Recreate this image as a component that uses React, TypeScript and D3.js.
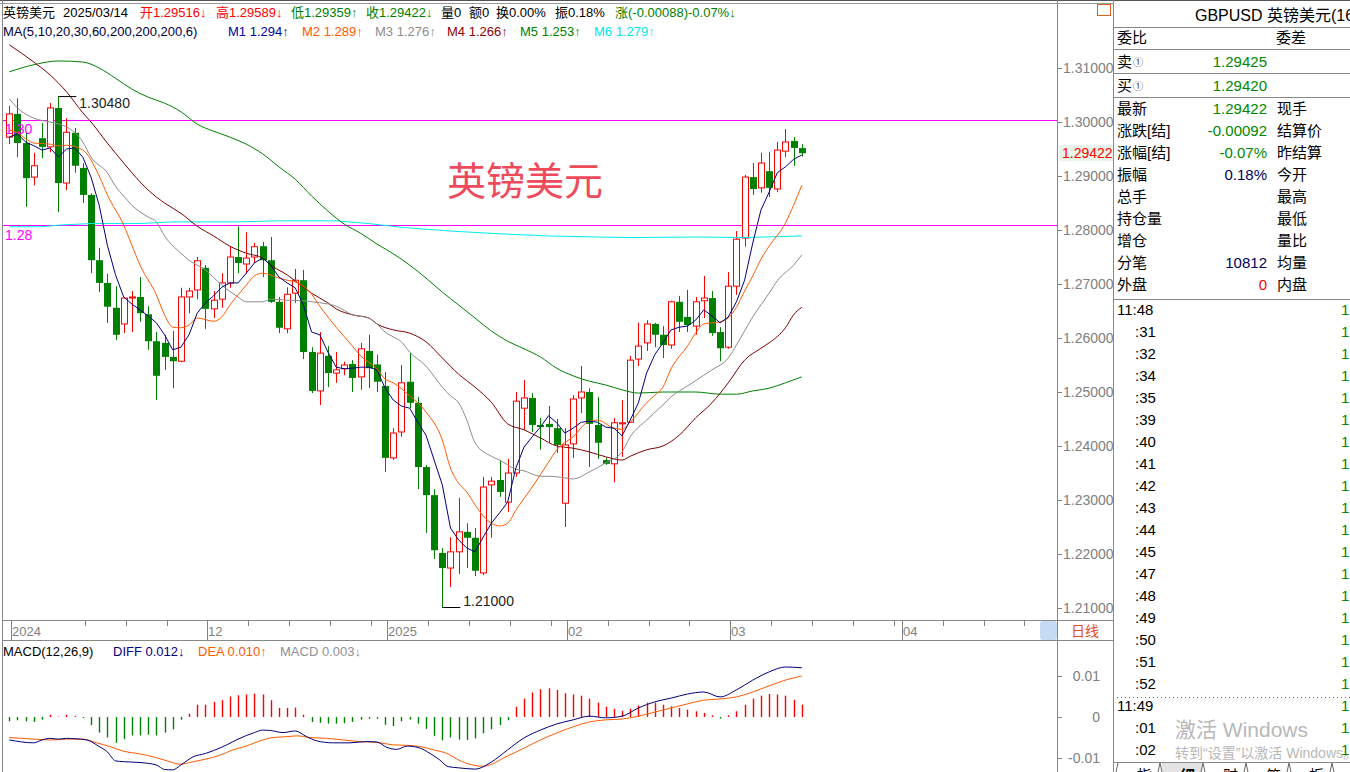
import * as d3 from 'd3';

// daily candles, 2024-10-29 .. 2025-03-14 (GBPUSD)
const opens = [
  1.2972, 1.3015, 1.2961, 1.2898, 1.297, 1.2954, 1.3026, 1.2887, 1.298, 1.2915,
  1.2865, 1.2744, 1.2702, 1.2656, 1.2626, 1.2674, 1.2676, 1.2644, 1.2594, 1.2591,
  1.2565, 1.2557, 1.2676, 1.2689, 1.273, 1.2654, 1.2672, 1.2702, 1.275, 1.2737,
  1.275, 1.277, 1.2744, 1.2667, 1.2617, 1.2683, 1.2707, 1.2574, 1.2502, 1.2567,
  1.2535, 1.2543, 1.2552, 1.2528, 1.2576, 1.2551, 1.2511, 1.2378, 1.2426, 1.2519,
  1.248, 1.2361, 1.2309, 1.2202, 1.2174, 1.2204, 1.2241, 1.223, 1.2165, 1.2328,
  1.2337, 1.2296, 1.235, 1.247, 1.2489, 1.2439, 1.2441, 1.2433, 1.2294, 1.2404,
  1.2489, 1.25, 1.2439, 1.2374, 1.2367, 1.2441, 1.2444, 1.2561, 1.2591, 1.2626,
  1.2606, 1.2587, 1.2667, 1.2639, 1.2622, 1.2669, 1.2674, 1.2611, 1.2583, 1.2696,
  1.2785, 1.2898, 1.2878, 1.2909, 1.2876, 1.2946, 1.2965, 1.29516,
];
const highs = [
  1.303, 1.3044, 1.298, 1.2943, 1.2998, 1.3035, 1.3048, 1.3007, 1.2989, 1.2924,
  1.2868, 1.2767, 1.2719, 1.2696, 1.2676, 1.2687, 1.2713, 1.2659, 1.2611, 1.2606,
  1.2613, 1.2693, 1.2693, 1.275, 1.2735, 1.2687, 1.272, 1.2769, 1.2807, 1.2796,
  1.2776, 1.2778, 1.2787, 1.2676, 1.2694, 1.2728, 1.2726, 1.2583, 1.2611, 1.2585,
  1.2574, 1.2556, 1.2559, 1.2591, 1.2606, 1.2569, 1.2537, 1.2433, 1.255, 1.2572,
  1.2491, 1.2365, 1.232, 1.2211, 1.2231, 1.2304, 1.2257, 1.2248, 1.2343, 1.2343,
  1.2374, 1.2376, 1.25, 1.2522, 1.2498, 1.2452, 1.2474, 1.245, 1.2433, 1.2494,
  1.2548, 1.2507, 1.2491, 1.2378, 1.2452, 1.2485, 1.2567, 1.2628, 1.2633, 1.2628,
  1.2622, 1.2669, 1.2678, 1.2689, 1.2676, 1.2715, 1.2687, 1.262, 1.2722, 1.2798,
  1.2902, 1.2924, 1.2943, 1.2944, 1.2963, 1.2987, 1.2972, 1.29589,
];
const lows = [
  1.2959, 1.2935, 1.2843, 1.2883, 1.2933, 1.2944, 1.2833, 1.2874, 1.2906, 1.285,
  1.272, 1.2685, 1.2628, 1.2596, 1.2609, 1.2611, 1.263, 1.2578, 1.2485, 1.2541,
  1.2507, 1.2555, 1.2646, 1.2672, 1.2617, 1.2637, 1.2656, 1.2693, 1.272, 1.2719,
  1.2739, 1.2713, 1.2665, 1.2609, 1.2609, 1.2665, 1.2561, 1.2498, 1.2476, 1.2509,
  1.2517, 1.2531, 1.25, 1.2504, 1.2507, 1.25, 1.2352, 1.2374, 1.2417, 1.247,
  1.232, 1.2239, 1.2191, 1.21, 1.2139, 1.2163, 1.2174, 1.2159, 1.2161, 1.223,
  1.2306, 1.2278, 1.2343, 1.243, 1.2426, 1.2393, 1.2406, 1.2387, 1.225, 1.2378,
  1.2461, 1.2361, 1.2376, 1.2365, 1.2333, 1.238, 1.2444, 1.2548, 1.2576, 1.2583,
  1.2563, 1.258, 1.2611, 1.2611, 1.2606, 1.2637, 1.2604, 1.2557, 1.258, 1.268,
  1.2769, 1.2865, 1.2869, 1.2861, 1.287, 1.2935, 1.2919, 1.29359,
];
const closes = [
  1.3015, 1.2961, 1.2896, 1.2919, 1.2954, 1.3026, 1.2887, 1.2981, 1.2919, 1.2865,
  1.2744, 1.2702, 1.2658, 1.2606, 1.2674, 1.2676, 1.2646, 1.2594, 1.253, 1.2565,
  1.2557, 1.2676, 1.2687, 1.2743, 1.2654, 1.267, 1.2702, 1.275, 1.2739, 1.2748,
  1.2769, 1.2744, 1.2667, 1.2619, 1.2681, 1.2707, 1.2574, 1.2502, 1.2572, 1.2535,
  1.2541, 1.255, 1.2526, 1.258, 1.2544, 1.2519, 1.2378, 1.2424, 1.2517, 1.248,
  1.2361, 1.2309, 1.2207, 1.2174, 1.2204, 1.2241, 1.223, 1.2169, 1.2324, 1.2335,
  1.2315, 1.235, 1.2483, 1.2489, 1.2439, 1.2435, 1.2435, 1.2402, 1.2402, 1.2487,
  1.25, 1.2441, 1.2406, 1.2367, 1.2443, 1.2443, 1.2559, 1.2585, 1.2626, 1.2606,
  1.2587, 1.2667, 1.263, 1.2624, 1.2667, 1.2674, 1.2609, 1.2581, 1.2696, 1.2783,
  1.2898, 1.2876, 1.2924, 1.2878, 1.2948, 1.2963, 1.2952, 1.29422,
];

// moving averages
const ma5 = [
  1.2972, 1.2978, 1.2963, 1.2956, 1.2948, 1.2952, 1.2935, 1.295, 1.2952, 1.2935,
  1.2898, 1.2846, 1.2772, 1.2717, 1.2676, 1.2663, 1.2652, 1.2641, 1.2628, 1.2606,
  1.2578, 1.2583, 1.2606, 1.2646, 1.2665, 1.2678, 1.2694, 1.2702, 1.2702, 1.272,
  1.2739, 1.2748, 1.2735, 1.2713, 1.2702, 1.2693, 1.2661, 1.2611, 1.2606, 1.2574,
  1.2546, 1.2543, 1.2544, 1.2546, 1.2546, 1.2541, 1.2507, 1.2485, 1.2474, 1.247,
  1.2444, 1.242, 1.2374, 1.2328, 1.2248, 1.2226, 1.2211, 1.2204, 1.2231, 1.2257,
  1.2276, 1.2296, 1.2359, 1.2398, 1.2417, 1.2435, 1.2456, 1.2443, 1.2424, 1.2433,
  1.2444, 1.2446, 1.2444, 1.2435, 1.2433, 1.2419, 1.2448, 1.248, 1.2535, 1.2569,
  1.2591, 1.2615, 1.262, 1.2622, 1.2633, 1.2652, 1.2641, 1.2628, 1.2639, 1.2667,
  1.2707, 1.2776, 1.2837, 1.287, 1.2906, 1.2917, 1.2931, 1.2939,
];
const ma10 = [
  [0, 1.2985], [1, 1.298], [2, 1.2969], [3, 1.2961], [5, 1.2959], [6, 1.2956], [7, 1.2957],
  [9, 1.2948], [11, 1.29], [12, 1.2865], [14, 1.2809], [15, 1.2772], [16, 1.2735], [18, 1.268],
  [19, 1.2643], [20, 1.262], [21, 1.2619], [22, 1.2624], [23, 1.2637], [25, 1.2631], [26, 1.2639],
  [27, 1.2661], [28, 1.268], [29, 1.2698], [30, 1.2715], [31, 1.272], [33, 1.2711], [34, 1.2707],
  [35, 1.2704], [37, 1.2681], [38, 1.2659], [40, 1.262], [42, 1.2585], [43, 1.2567], [45, 1.2543],
  [46, 1.2524], [47, 1.2517], [49, 1.2493], [51, 1.2463], [53, 1.2411], [54, 1.2359], [55, 1.2331],
  [56, 1.2315], [57, 1.2291], [59, 1.2257], [60, 1.2252], [61, 1.2257], [62, 1.2281], [64, 1.2324],
  [66, 1.237], [67, 1.2393], [69, 1.2417], [71, 1.2446], [72, 1.2448], [74, 1.2433], [75, 1.2431],
  [76, 1.2444], [78, 1.248], [79, 1.2494], [80, 1.2509], [81, 1.2543], [83, 1.2585], [84, 1.2609],
  [85, 1.2626], [87, 1.263], [88, 1.2637], [89, 1.2657], [90, 1.2687], [91, 1.2715], [92, 1.2746],
  [93, 1.277], [95, 1.2813], [96, 1.2846], [97, 1.2883],
];
const ma20 = [
  [0, 1.3043], [1, 1.3026], [3, 1.3007], [5, 1.3], [7, 1.2991], [9, 1.2963], [10, 1.2935],
  [12, 1.2906], [13, 1.2881], [14, 1.2863], [15, 1.2846], [17, 1.2824], [18, 1.2815], [19, 1.2789],
  [21, 1.2757], [22, 1.2744], [24, 1.2726], [26, 1.2698], [28, 1.2676], [29, 1.2667], [31, 1.2667],
  [32, 1.2672], [34, 1.267], [36, 1.2669], [37, 1.2667], [39, 1.2663], [40, 1.2659], [42, 1.2643],
  [44, 1.2637], [45, 1.2626], [46, 1.2611], [47, 1.2602], [48, 1.2593], [49, 1.2574], [51, 1.2548],
  [53, 1.2509], [54, 1.2493], [55, 1.248], [56, 1.2448], [57, 1.2406], [59, 1.2381], [60, 1.2374],
  [62, 1.2357], [63, 1.2354], [65, 1.2344], [66, 1.2344], [68, 1.2341], [69, 1.2339], [71, 1.2352],
  [73, 1.2369], [75, 1.2389], [76, 1.2417], [78, 1.2448], [80, 1.2476], [81, 1.2491], [83, 1.2511],
  [85, 1.2531], [86, 1.2541], [88, 1.2563], [89, 1.2587], [91, 1.2639], [93, 1.2683], [94, 1.2706],
  [96, 1.2735], [97, 1.2754],
];
const ma30 = [
  [0, 1.3143], [3, 1.3111], [5, 1.3087], [7, 1.3056], [9, 1.3017], [10, 1.3], [12, 1.2961],
  [14, 1.2924], [15, 1.2906], [17, 1.2874], [19, 1.285], [21, 1.2831], [23, 1.2807], [25, 1.2789],
  [27, 1.277], [29, 1.2757], [31, 1.2748], [32, 1.2735], [34, 1.2717], [36, 1.2694], [37, 1.2683],
  [39, 1.2665], [40, 1.2654], [42, 1.2643], [44, 1.2637], [45, 1.2626], [47, 1.2615], [49, 1.2609],
  [51, 1.2593], [53, 1.2563], [55, 1.2533], [57, 1.2509], [59, 1.2481], [61, 1.2441], [63, 1.243],
  [65, 1.2415], [67, 1.24], [69, 1.2396], [71, 1.2389], [73, 1.238], [75, 1.2374], [76, 1.2381],
  [78, 1.2393], [80, 1.24], [82, 1.242], [84, 1.2452], [86, 1.248], [88, 1.2517], [90, 1.2559],
  [92, 1.2581], [93, 1.2591], [95, 1.2619], [96, 1.2643], [97, 1.2657],
];
const ma60 = [
  [0, 1.3093], [3, 1.3106], [6, 1.3113], [9, 1.3111], [11, 1.31], [13, 1.3081], [15, 1.3061],
  [17, 1.3046], [19, 1.3035], [21, 1.3019], [23, 1.2996], [25, 1.2983], [27, 1.2972], [29, 1.2959],
  [31, 1.2941], [33, 1.2917], [35, 1.2894], [37, 1.2863], [39, 1.2835], [41, 1.2811], [43, 1.2794],
  [45, 1.2774], [47, 1.2756], [49, 1.2735], [51, 1.2711], [53, 1.2685], [55, 1.2661], [57, 1.2637],
  [59, 1.2613], [61, 1.2594], [63, 1.258], [65, 1.2565], [67, 1.2544], [69, 1.253], [71, 1.252],
  [73, 1.2513], [75, 1.2504], [77, 1.2498], [80, 1.25], [84, 1.25], [87, 1.2496], [89, 1.2496],
  [91, 1.2502], [93, 1.2507], [95, 1.2517], [97, 1.2528],
];
const ma200 = [
  [0, 1.2806], [4, 1.2806], [6, 1.2809], [10, 1.2812], [16, 1.2812], [20, 1.2815], [28, 1.2815],
  [33, 1.2817], [40, 1.2817], [44, 1.2812], [48, 1.2805], [54, 1.2798], [60, 1.2793], [66, 1.2789],
  [72, 1.2787], [76, 1.2786], [84, 1.2787], [90, 1.2786], [97, 1.2789],
];

// MACD(12,26,9)
const macdBars = [
  -0.00105, -0.0008, -0.00105, -0.0012, -0.00066, 0.00056, 0.0001, 0.00056, 0.00024, -0.00024,
  -0.002, -0.0038, -0.005, -0.0063, -0.0054, -0.0045, -0.0045, -0.0043, -0.0045, -0.0038,
  -0.003, -0.00066, 0.0008, 0.003, 0.003, 0.0037, 0.0041, 0.005, 0.0053, 0.0055,
  0.0057, 0.0055, 0.0041, 0.0022, 0.0022, 0.0023, 0.00056, -0.0012, -0.0014, -0.0016,
  -0.0016, -0.0015, -0.0012, -0.00066, -0.0004, -0.0004, -0.0019, -0.0022, -0.00105, -0.00066,
  -0.0016, -0.0029, -0.0046, -0.0057, -0.005, -0.0055, -0.0056, -0.0052, -0.004, -0.003,
  -0.002, -0.0008, 0.0025, 0.0045, 0.006, 0.0068, 0.007, 0.0066, 0.0058, 0.0055,
  0.0052, 0.0045, 0.0035, 0.0025, 0.002, 0.0015, 0.002, 0.0028, 0.0035, 0.0035,
  0.003, 0.0026, 0.0022, 0.0018, 0.0014, 0.001, 0.0004, -0.0004, 0.0004, 0.0014,
  0.003, 0.0045, 0.0052, 0.0056, 0.0055, 0.0052, 0.0042, 0.003,
];
const diffPts = [
  [0, -0.0056], [3, -0.0063], [4, -0.0056], [5, -0.0052], [6, -0.0054], [7, -0.0052], [8, -0.0053],
  [9.5, -0.0056], [11, -0.0072], [12, -0.0085], [13, -0.0107], [14, -0.0109], [16, -0.0111],
  [18, -0.0117], [19, -0.0128], [20, -0.0129], [21, -0.0117], [22.5, -0.0097], [24, -0.0089],
  [25, -0.0082], [26.6, -0.0068], [28, -0.0054], [30, -0.0038], [31, -0.0032], [32, -0.0033],
  [33.5, -0.0038], [35, -0.0034], [36.4, -0.0048], [37.6, -0.0058], [39.6, -0.0063], [41.7, -0.0063],
  [43.7, -0.006], [45, -0.0061], [46.2, -0.0074], [47.4, -0.0079], [48.7, -0.0071], [50.3, -0.0076],
  [51.5, -0.0089], [52.7, -0.0105], [53.7, -0.0121], [55, -0.0124], [57, -0.0127], [59, -0.011],
  [61, -0.008], [63, -0.0051], [65, -0.0032], [67, -0.0017], [69, -0.0007], [71, 0.0002],
  [73, -0.0002], [75, 0.0002], [77, 0.0022], [79, 0.0037], [81, 0.0046], [83, 0.0056],
  [85, 0.0061], [87, 0.0049], [89, 0.0066], [91, 0.009], [93, 0.011], [95, 0.0122], [97, 0.012],
];
const deaPts = [
  [0, -0.005], [3, -0.0054], [5, -0.0056], [7, -0.0054], [9, -0.0054], [10.7, -0.0063],
  [12.3, -0.0072], [13.9, -0.0083], [16, -0.009], [17.6, -0.0097], [19.3, -0.0107], [20.9, -0.0115],
  [22.5, -0.0109], [24.2, -0.0102], [25.8, -0.0093], [27.4, -0.008], [29, -0.0071], [30.7, -0.0058],
  [32.3, -0.005], [34, -0.0048], [35.2, -0.0046], [36.8, -0.005], [38.8, -0.0052], [40.9, -0.0056],
  [42.9, -0.006], [45, -0.0062], [47, -0.0068], [48.6, -0.0069], [50.3, -0.0072], [51.9, -0.008],
  [53.7, -0.009], [55, -0.0105], [58, -0.012], [61, -0.0095], [63, -0.0076], [65, -0.0056],
  [67, -0.0039], [69, -0.0024], [71, -0.0012], [73, -0.0007], [75, -0.0005], [77, 0.0002],
  [79, 0.0012], [81, 0.0022], [83, 0.0032], [85, 0.0041], [87, 0.0044], [89, 0.0049],
  [91, 0.0061], [93, 0.0076], [95, 0.009], [97, 0.01],
];

const priceTicks = [1.31, 1.3, 1.29, 1.28, 1.27, 1.26, 1.25, 1.24, 1.23, 1.22, 1.21];
const levelLines = [1.3002, 1.2808];
const levelLabels = ['1.30', '1.28'];
const macdTicks = [0.01, 0, -0.01];
const macdTickLabels = ['0.01', '0', '-0.01'];
const weekTicks = [9, 14, 19, 29, 34, 39, 44, 51, 56, 61, 66, 73, 78, 83, 93, 98, 103, 108, 114, 119, 124];
const monthTicks = [0, 24, 46, 68, 88, 109];
const monthLabels = ['2024', '12', '2025', '02', '03', '04'];

const quoteRows = [
  ['最新', '1.29422', '现手'],
  ['涨跌[结]', '-0.00092', '结算价'],
  ['涨幅[结]', '-0.07%', '昨结算'],
  ['振幅', '0.18%', '今开'],
  ['总手', '', '最高'],
  ['持仓量', '', '最低'],
  ['增仓', '', '量比'],
  ['分笔', '10812', '均量'],
  ['外盘', '0', '内盘'],
];
const quoteColors = ['#008800', '#008800', '#008800', '#000060', '', '', '', '#000060', '#ff0000'];
const tickTimes = [
  '11:48', ':31', ':32', ':34', ':35', ':39', ':40', ':41', ':42', ':43', ':44', ':45', ':47',
  ':48', ':49', ':50', ':51', ':52', '11:49', ':01', ':02',
];
const tabs = ['指', '细', '财', '筹', '板', '館'];

const FONT = "Arial, 'Liberation Sans', 'Noto Sans CJK SC', sans-serif";

export default function App() {
  const n = closes.length;
  const x = d3.scaleLinear().domain([0, 97]).range([9.3, 801.8]);
  const y = d3.scaleLinear().domain([1.21, 1.31]).range([608, 68]);
  const ym = d3.scaleLinear().domain([-0.01, 0.01]).range([758, 676]);

  const pairLine = d3
    .line<number[]>()
    .x((d) => x(d[0]))
    .y((d) => y(d[1]))
    .curve(d3.curveMonotoneX);
  const stepLine = d3
    .line<number[]>()
    .x((d) => x(d[0]))
    .y((d) => y(d[1]));
  const ma5Line = d3
    .line<number>()
    .x((_, i) => x(i))
    .y((d) => y(d));
  const macdLine = d3
    .line<number[]>()
    .x((d) => x(d[0]))
    .y((d) => ym(d[1]))
    .curve(d3.curveMonotoneX);

  const hiIdx = d3.maxIndex(highs);
  const loIdx = d3.minIndex(lows);
  const last = closes[n - 1];

  const mas = [
    { d: ma200, c: '#00eeee', gen: stepLine },
    { d: ma60, c: '#008000', gen: pairLine },
    { d: ma30, c: '#800000', gen: pairLine },
    { d: ma20, c: '#8c8c8c', gen: pairLine },
    { d: ma10, c: '#ff5a00', gen: pairLine },
  ];

  return (
    <div style={{ position: 'absolute', left: 0, top: 0 }}>
      <svg width={1350} height={772} style={{ display: 'block', background: '#fff', fontFamily: FONT }}>
        <defs>
          <clipPath id="main">
            <rect x={3} y={40} width={1054} height={580} />
          </clipPath>
          <clipPath id="sub">
            <rect x={3} y={660} width={1054} height={112} />
          </clipPath>
          <clipPath id="panel">
            <rect x={1114} y={0} width={236} height={772} />
          </clipPath>
        </defs>

        {/* frame */}
        <line x1={0} x2={1350} y1={0.5} y2={0.5} stroke="#555" />
        <line x1={0} x2={1114} y1={3.5} y2={3.5} stroke="#999" />
        <line x1={2.5} x2={2.5} y1={0} y2={772} stroke="#888" />
        <line x1={1057.5} x2={1057.5} y1={0} y2={772} stroke="#888" />
        <line x1={1113.5} x2={1113.5} y1={0} y2={772} stroke="#888" />
        <line x1={2} x2={1114} y1={620.5} y2={620.5} stroke="#888" />
        <line x1={2} x2={1114} y1={640.5} y2={640.5} stroke="#888" />
        <rect x={1097.5} y={4.5} width={13} height={11} fill="none" stroke="#e06020" />

        {/* header */}
        <g fontSize={13}>
          <text x={3} y={17}>英镑美元</text>
          <text x={63} y={17}>2025/03/14</text>
          <text x={140} y={17} fill="#ff0000">开1.29516↓</text>
          <text x={216} y={17} fill="#ff0000">高1.29589↓</text>
          <text x={291} y={17} fill="#008000">低1.29359↑</text>
          <text x={366} y={17} fill="#008000">收1.29422↓</text>
          <text x={441} y={17}>量0</text>
          <text x={469} y={17}>额0</text>
          <text x={496} y={17}>换0.00%</text>
          <text x={555} y={17}>振0.18%</text>
          <text x={615} y={17} fill="#008000">涨(-0.00088)-0.07%↓</text>

          <text x={3} y={36} fill="#000040">MA(5,10,20,30,60,200,200,200,6)</text>
          <text x={228} y={36} fill="#0000a0">M1 1.294↑</text>
          <text x={302} y={36} fill="#ff5a00">M2 1.289↑</text>
          <text x={375} y={36} fill="#8c8c8c">M3 1.276↑</text>
          <text x={447} y={36} fill="#900000">M4 1.266↑</text>
          <text x={520} y={36} fill="#008000">M5 1.253↑</text>
          <text x={594} y={36} fill="#00e5ee">M6 1.279↑</text>
        </g>

        {/* main chart */}
        <g clipPath="url(#main)">
          {levelLines.map((v) => (
            <line key={v} x1={3} x2={1057} y1={Math.round(y(v)) - 0.5} y2={Math.round(y(v)) - 0.5} stroke="#ff00ff" />
          ))}

          <text x={447} y={195} fontSize={39} fill="#ef4a5c" fontFamily="'Noto Sans CJK SC', sans-serif">
            英镑美元
          </text>

          {closes.map((c, i) => {
            const o = opens[i];
            const up = c >= o;
            const col = up ? '#ff0000' : '#008000';
            const cx = Math.round(x(i)) + 0.5;
            const top = y(Math.max(o, c));
            const bot = y(Math.min(o, c));
            return (
              <g key={i}>
                <line x1={cx} x2={cx} y1={y(highs[i])} y2={y(lows[i])} stroke={col} />
                {up ? (
                  <rect x={cx - 3} y={top} width={6} height={Math.max(bot - top, 1)} fill="#fff" stroke={col} />
                ) : (
                  <rect x={cx - 3.5} y={top} width={7} height={Math.max(bot - top, 1.5)} fill={col} />
                )}
              </g>
            );
          })}

          {mas.map((m, k) => (
            <path key={k} d={m.gen(m.d as number[][]) || ''} fill="none" stroke={m.c} strokeWidth={1} />
          ))}
          <path d={ma5Line(ma5) || ''} fill="none" stroke="#000080" strokeWidth={1} />

          {levelLines.map((v, k) => (
            <text key={v} x={5} y={y(v) + (k === 0 ? 13 : 14)} fontSize={14} fill="#ff00ff">
              {levelLabels[k]}
            </text>
          ))}

          {/* extreme marks */}
          <line x1={x(hiIdx)} x2={x(hiIdx) + 18} y1={y(highs[hiIdx]) + 0.5} y2={y(highs[hiIdx]) + 0.5} stroke="#000" />
          <text x={x(hiIdx) + 21} y={y(highs[hiIdx]) + 12} fontSize={14} fill="#222">
            {highs[hiIdx].toFixed(5)}
          </text>
          <line x1={x(loIdx)} x2={x(loIdx) + 18} y1={y(lows[loIdx]) - 0.5} y2={y(lows[loIdx]) - 0.5} stroke="#000" />
          <text x={x(loIdx) + 21} y={y(lows[loIdx]) - 2} fontSize={14} fill="#222">
            {lows[loIdx].toFixed(5)}
          </text>
        </g>

        {/* price axis */}
        <g fontSize={14} fill="#808080">
          {priceTicks.map((v) => (
            <g key={v}>
              <line x1={1058} x2={1062} y1={Math.round(y(v)) + 0.5} y2={Math.round(y(v)) + 0.5} stroke="#808080" />
              <text x={1063} y={y(v) + 5}>{v.toFixed(5)}</text>
            </g>
          ))}
          <rect x={1059} y={y(last) - 8} width={54} height={16} fill="#e8f4e8" />
          <text x={1062} y={y(last) + 5} fill="#ff0000">
            {last.toFixed(5)}
          </text>
        </g>

        {/* date axis */}
        <g fontSize={13} fill="#808080">
          {weekTicks.map((i) => (
            <line key={i} x1={Math.round(x(i)) + 2.5} x2={Math.round(x(i)) + 2.5} y1={621} y2={626} stroke="#808080" />
          ))}
          {monthTicks.map((i, k) => (
            <g key={i}>
              <line x1={Math.round(x(i)) + 2.5} x2={Math.round(x(i)) + 2.5} y1={621} y2={640} stroke="#808080" />
              <text x={Math.round(x(i)) + 3} y={636}>{monthLabels[k]}</text>
            </g>
          ))}
          <rect x={1040} y={621} width={17} height={19} rx={3} fill="#c4dbf4" />
          <text x={1071} y={636} fontSize={14} fill="#e05020">日线</text>
        </g>

        {/* MACD */}
        <g fontSize={13}>
          <text x={3} y={656} fill="#000">MACD(12,26,9)</text>
          <text x={113} y={656} fill="#000080">DIFF 0.012↓</text>
          <text x={198} y={656} fill="#ff5a00">DEA 0.010↑</text>
          <text x={280} y={656} fill="#909090">MACD 0.003↓</text>
        </g>
        <g clipPath="url(#sub)">
          {macdBars.map((v, i) => (
            <line
              key={i}
              x1={Math.round(x(i)) + 0.5}
              x2={Math.round(x(i)) + 0.5}
              y1={ym(0)}
              y2={ym(v)}
              stroke={v >= 0 ? '#ff0000' : '#008000'}
              strokeWidth={1.4}
            />
          ))}
          <path d={macdLine(deaPts as number[][]) || ''} fill="none" stroke="#ff5a00" />
          <path d={macdLine(diffPts as number[][]) || ''} fill="none" stroke="#000080" />
        </g>
        <g fontSize={14} fill="#808080">
          {macdTicks.map((v, k) => (
            <g key={v}>
              <line x1={1058} x2={1062} y1={Math.round(ym(v)) + 0.5} y2={Math.round(ym(v)) + 0.5} stroke="#808080" />
              <text x={1100} y={ym(v) + 5} textAnchor="end">{macdTickLabels[k]}</text>
            </g>
          ))}
        </g>

        {/* right quote panel */}
        <g clipPath="url(#panel)" fontSize={15} fill="#000">
          <text x={1195} y={21} fontSize={16}>GBPUSD 英镑美元(16</text>
          <line x1={1114} x2={1350} y1={27.5} y2={27.5} stroke="#888" />
          <text x={1117} y={43}>委比</text>
          <text x={1276} y={43}>委差</text>
          <line x1={1114} x2={1350} y1={49.5} y2={49.5} stroke="#888" />
          <text x={1117} y={67}>卖</text>
          <text x={1133} y={66} fontSize={10} fill="#334">①</text>
          <text x={1267} y={67} textAnchor="end" fill="#008800">1.29425</text>
          <line x1={1114} x2={1350} y1={73.5} y2={73.5} stroke="#888" />
          <text x={1117} y={91}>买</text>
          <text x={1133} y={90} fontSize={10} fill="#334">①</text>
          <text x={1267} y={91} textAnchor="end" fill="#008800">1.29420</text>
          <line x1={1114} x2={1350} y1={97.5} y2={97.5} stroke="#888" />
          {quoteRows.map((r, k) => (
            <g key={k}>
              <text x={1117} y={114 + k * 22}>{r[0]}</text>
              <text x={1267} y={114 + k * 22} textAnchor="end" fill={quoteColors[k] || '#000'}>
                {r[1]}
              </text>
              <text x={1277} y={114 + k * 22}>{r[2]}</text>
            </g>
          ))}
          <line x1={1114} x2={1350} y1={299.5} y2={299.5} stroke="#888" />
          {tickTimes.map((t, k) => {
            const yy = 315 + k * 22;
            return (
              <g key={k}>
                <text x={t.length > 3 ? 1117 : 1135} y={yy}>{t}</text>
                <text x={1341} y={yy} fill="#008800">1</text>
              </g>
            );
          })}
          <line x1={1117} x2={1350} y1={697.5} y2={697.5} stroke="#666" strokeDasharray="1,3" />
          <text x={1175} y={737} fontSize={21} fill="#b8b8b8">激活 Windows</text>
          <text x={1175} y={758} fontSize={14} fill="#b8b8b8">转到“设置”以激活 Windows。</text>
          <line x1={1114} x2={1350} y1={762.5} y2={762.5} stroke="#888" />
          <rect x={1162} y={763} width={40} height={9} fill="#e4e4e4" />
          {tabs.map((t, k) => (
            <g key={k}>
              <text x={1137 + k * 43} y={781} fontWeight={k === 1 ? 'bold' : 'normal'}>{t}</text>
              <path d={`M${1158 + k * 43},772 L${1160 + k * 43},763 L${1162 + k * 43},772`} fill="none" stroke="#666" />
            </g>
          ))}
          <path d="M1116,772 L1118,763" fill="none" stroke="#666" />
        </g>
      </svg>
    </div>
  );
}
